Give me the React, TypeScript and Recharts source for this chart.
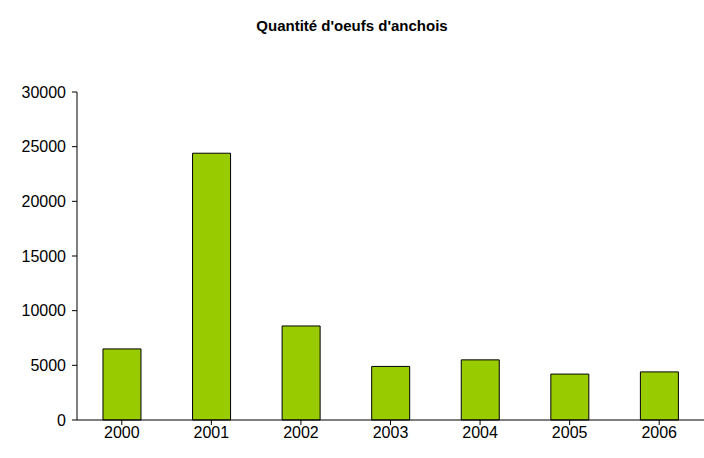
import React from 'react';
import { BarChart, Bar, XAxis, YAxis } from 'recharts';

// data
const years = ['2000', '2001', '2002', '2003', '2004', '2005', '2006'];
const eggs = [6500, 24400, 8600, 4900, 5500, 4200, 4400];
const yTicks = [0, 5000, 10000, 15000, 20000, 25000, 30000];

const data = years.map((year, i) => ({ year, eggs: eggs[i] }));

export default function App() {
  return (
    <div style={{ position: 'absolute', left: 0, top: 0, width: 704, height: 458, background: '#fff', fontFamily: 'Arial, "Liberation Sans", sans-serif' }}>
      <div style={{ position: 'absolute', top: 17, width: 704, textAlign: 'center', fontWeight: 'bold', fontSize: 15 }}>
        Quantité d'oeufs d'anchois
      </div>
      <BarChart
        width={704}
        height={458}
        data={data}
        margin={{ top: 92, right: 0, bottom: 0, left: 0 }}
        barCategoryGap="29%"
      >
        <XAxis
          dataKey="year"
          height={38}
          stroke="#000"
          tick={{ fill: '#000', fontSize: 16 }}
          tickSize={5}
        />
        <YAxis
          width={77}
          domain={[0, 30000]}
          ticks={yTicks}
          stroke="#000"
          tick={{ fill: '#000', fontSize: 16 }}
          tickSize={5}
          tickMargin={6}
        />
        <Bar dataKey="eggs" fill="#99CC00" stroke="#000" strokeWidth={1} isAnimationActive={false} />
      </BarChart>
    </div>
  );
}
